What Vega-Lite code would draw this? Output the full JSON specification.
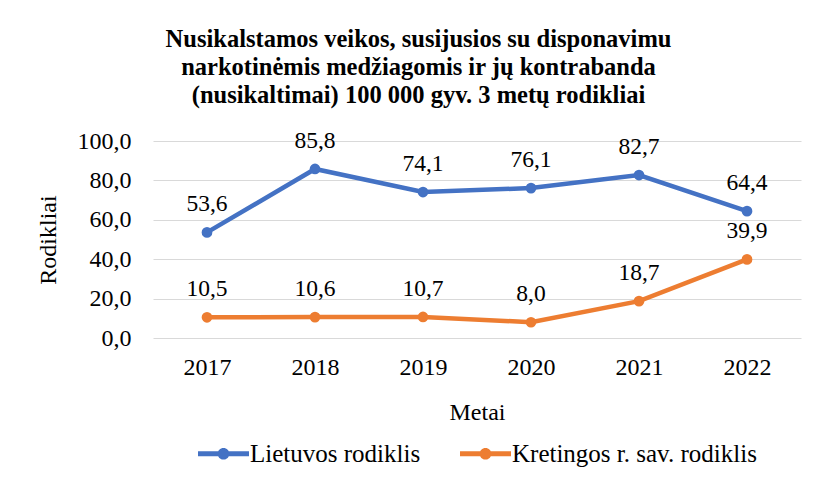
{
  "$schema": "https://vega.github.io/schema/vega-lite/v6.json",
  "width": 648,
  "height": 197,
  "autosize": {"type": "none"},
  "padding": {"left": 153, "top": 141, "right": 15, "bottom": 155},
  "background": "white",
  "title": {
    "text": ["Nusikalstamos veikos, susijusios su disponavimu", "narkotinėmis medžiagomis ir jų kontrabanda", "(nusikaltimai)  100 000 gyv. 3 metų rodikliai"],
    "font": "Liberation Serif",
    "fontSize": 24.5,
    "fontWeight": "bold",
    "color": "#000000",
    "lineHeight": 28,
    "anchor": "middle",
    "frame": "bounds",
    "offset": 20
  },
  "data": {
    "values": [
      {"year": "2017", "series": "Lietuvos rodiklis", "value": 53.6},
      {"year": "2018", "series": "Lietuvos rodiklis", "value": 85.8},
      {"year": "2019", "series": "Lietuvos rodiklis", "value": 74.1},
      {"year": "2020", "series": "Lietuvos rodiklis", "value": 76.1},
      {"year": "2021", "series": "Lietuvos rodiklis", "value": 82.7},
      {"year": "2022", "series": "Lietuvos rodiklis", "value": 64.4},
      {"year": "2017", "series": "Kretingos r. sav. rodiklis", "value": 10.5},
      {"year": "2018", "series": "Kretingos r. sav. rodiklis", "value": 10.6},
      {"year": "2019", "series": "Kretingos r. sav. rodiklis", "value": 10.7},
      {"year": "2020", "series": "Kretingos r. sav. rodiklis", "value": 8.0},
      {"year": "2021", "series": "Kretingos r. sav. rodiklis", "value": 18.7},
      {"year": "2022", "series": "Kretingos r. sav. rodiklis", "value": 39.9}
    ]
  },
  "encoding": {
    "x": {
      "field": "year",
      "type": "ordinal",
      "scale": {"type": "point", "padding": 0.5},
      "axis": {
        "title": "Metai",
        "labelAngle": 0,
        "domain": false,
        "ticks": false,
        "labelPadding": 17,
        "titlePadding": 21
      }
    },
    "y": {
      "field": "value",
      "type": "quantitative",
      "scale": {"domain": [0, 100], "nice": false},
      "axis": {
        "title": "Rodikliai",
        "values": [0, 20, 40, 60, 80, 100],
        "format": ".1f",
        "domain": false,
        "ticks": false,
        "labelPadding": 22,
        "titlePadding": 17,
        "grid": true,
        "gridColor": "#D9D9D9",
        "gridWidth": 1.2
      }
    },
    "color": {
      "field": "series",
      "type": "nominal",
      "scale": {
        "domain": ["Lietuvos rodiklis", "Kretingos r. sav. rodiklis"],
        "range": ["#4472C4", "#ED7D31"]
      },
      "legend": {
        "title": null,
        "orient": "bottom",
        "direction": "horizontal",
        "offset": 4,
        "symbolType": "M-1,-0.1H1V0.1H-1Z M0.23,0A0.23,0.23 0 1,1 -0.23,0A0.23,0.23 0 1,1 0.23,0",
        "symbolSize": 2600,
        "symbolStrokeWidth": 0,
        "symbolOpacity": 1,
        "labelFont": "Liberation Serif",
        "labelFontSize": 25,
        "labelColor": "#000000",
        "columnPadding": 39,
        "labelOffset": 1,
        "labelLimit": 400,
        "encode": {
          "symbols": {
            "update": {
              "fill": {"scale": "color", "field": "value"},
              "strokeWidth": {"value": 0},
              "opacity": {"value": 1}
            }
          }
        }
      }
    }
  },
  "layer": [
    {
      "mark": {"type": "line", "strokeWidth": 4.5}
    },
    {
      "mark": {"type": "point", "filled": true, "size": 115, "opacity": 1}
    },
    {
      "mark": {
        "type": "text",
        "dy": -28,
        "font": "Liberation Serif",
        "fontSize": 23.5,
        "color": "#000000"
      },
      "encoding": {
        "text": {"field": "value", "type": "quantitative", "format": ".1f"},
        "color": {"value": "#000000"}
      }
    }
  ],
  "config": {
    "view": {"stroke": null},
    "title": {"font": "Liberation Serif"},
    "legend": {"layout": {"bottom": {"anchor": "middle"}}},
    "axis": {
      "labelFont": "Liberation Serif",
      "labelFontSize": 24,
      "labelColor": "#000000",
      "titleFont": "Liberation Serif",
      "titleFontSize": 24,
      "titleFontWeight": "normal",
      "titleColor": "#000000"
    },
    "locale": {
      "number": {"decimal": ",", "thousands": " ", "grouping": [3], "currency": ["", " €"]}
    }
  }
}
